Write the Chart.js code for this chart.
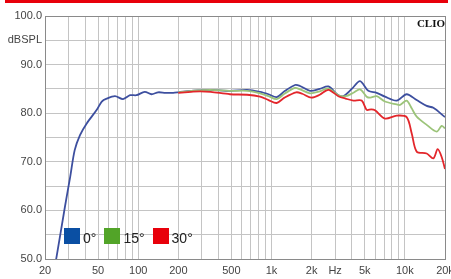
<!DOCTYPE html>
<html>
<head>
<meta charset="utf-8">
<script src="https://cdn.jsdelivr.net/npm/chart.js@4"></script>
<style>
  body { margin: 0; background: #fff; }
  .wrap { position: relative; width: 451px; height: 279px; overflow: hidden; }
  .topbar { position: absolute; left: 5px; top: 0; width: 443px; height: 3px; background: #e8000b; }
  .clio { position: absolute; right: 6px; top: 17px; font: bold 11px "Liberation Serif", serif; color: #111; }
  .legend { position: absolute; left: 64px; top: 228px; display: flex; align-items: flex-end; }
  .legend-item { display: flex; align-items: flex-end; margin-right: 8px; }
  .legend-sq { width: 16px; height: 16px; margin-right: 3px; }
  .legend-txt { font: 14px "Liberation Sans", Arial, sans-serif; color: #222; line-height: 12px; }
</style>
</head>
<body>
<div class="wrap">
  <canvas id="fr" width="451" height="279"></canvas>
  <div class="topbar"></div>
  <div class="clio">CLIO</div>
  <div class="legend" id="legend"></div>
</div>

<script>
  // frequency response, 0 / 15 / 30 degrees
  var seriesNames = ["0°", "15°", "30°"];
  var lineColors = ["#3d4f9f", "#9cc47a", "#e3262b"];
  var legendColors = ["#0a4fa3", "#52a428", "#e8000b"];

  var freq0 = [23.5, 24.4, 28.2, 30.9, 33.4, 36.6, 41.1, 48.9, 53.3, 58, 67, 77, 87, 97, 112, 126, 141, 160, 183, 200, 250, 291, 350, 488, 655, 820, 950, 1093, 1250, 1500, 1635, 1943, 2300, 2667, 3170, 3456, 4000, 4610, 5321, 6146, 7096, 8683, 10316, 12264, 14578, 16355, 20000];
  var db0 = [48.0, 50.4, 60.7, 66.9, 72.4, 75.5, 77.9, 80.7, 82.4, 83.0, 83.5, 82.9, 83.7, 83.7, 84.4, 83.9, 84.3, 84.2, 84.2, 84.3, 84.6, 84.7, 84.8, 84.6, 84.8, 84.4, 83.9, 83.3, 84.5, 85.8, 85.6, 84.6, 85.0, 85.5, 83.7, 83.5, 85.0, 86.6, 84.6, 84.2, 83.4, 82.6, 83.9, 82.7, 81.5, 81.1, 79.2];

  var freq15 = [200, 250, 291, 350, 488, 655, 820, 950, 1093, 1250, 1500, 1635, 1943, 2300, 2667, 3170, 3600, 4108, 4610, 5170, 5500, 6146, 7096, 8683, 9193, 10316, 11247, 12264, 14578, 17321, 18880, 20000];
  var db15 = [84.3, 84.6, 84.7, 84.8, 84.6, 84.6, 84.1, 83.5, 82.9, 84.0, 85.2, 84.9, 84.1, 84.5, 85.1, 83.7, 83.5, 84.2, 84.9, 83.4, 83.2, 83.5, 82.4, 81.8, 81.7, 82.6, 81.0, 79.3, 77.6, 76.2, 77.4, 76.9];

  var freq30 = [200, 250, 291, 350, 488, 655, 820, 950, 1093, 1250, 1530, 1700, 1990, 2300, 2667, 3170, 3600, 4108, 4743, 5170, 5600, 5970, 7096, 8683, 10316, 11247, 12264, 14578, 16355, 17622, 18880, 20000];
  var db30 = [84.2, 84.4, 84.5, 84.4, 83.9, 83.8, 83.4, 82.7, 82.1, 83.2, 84.3, 84.0, 83.2, 83.8, 84.8, 83.5, 83.0, 82.6, 82.6, 80.7, 80.8, 80.6, 78.9, 79.5, 79.2, 75.9, 72.1, 71.7, 70.7, 72.6, 71.0, 68.5];

  var xGrid = [20, 30, 40, 50, 60, 70, 80, 90, 100, 200, 300, 400, 500, 600, 700, 800, 900, 1000,
               2000, 3000, 4000, 5000, 6000, 7000, 8000, 9000, 10000, 20000];
  var xLabels = { 20: "20", 50: "50", 100: "100", 200: "200", 500: "500", 1000: "1k", 2000: "2k", 3000: "Hz", 5000: "5k", 10000: "10k", 20000: "20k" };

  function pts(f, d) {
    return f.map(function (v, i) { return { x: v, y: d[i] }; });
  }
  var allFreq = [freq0, freq15, freq30];
  var allDb = [db0, db15, db30];

  var font = { family: "'Liberation Sans', Arial, sans-serif", size: 11 };

  new Chart(document.getElementById('fr'), {
    type: 'line',
    data: {
      datasets: seriesNames.map(function (n, i) {
        return {
          label: n,
          data: pts(allFreq[i], allDb[i]),
          borderColor: lineColors[i],
          borderWidth: 1.8,
          pointRadius: 0,
          tension: 0.3,
          fill: false
        };
      }).reverse()
    },
    options: {
      responsive: false,
      animation: false,
      layout: { padding: { left: 0, right: 6, top: 16, bottom: 0 } },
      plugins: { legend: { display: false }, tooltip: { enabled: false } },
      scales: {
        x: {
          type: 'logarithmic',
          min: 20,
          max: 20000,
          afterBuildTicks: function (s) { s.ticks = xGrid.map(function (v) { return { value: v }; }); },
          afterFit: function (s) { s.height = 20; s.paddingLeft = 0; s.paddingRight = 0; },
          ticks: {
            autoSkip: false, maxRotation: 0, padding: 5, color: '#444', font: font,
            callback: function (v) { return xLabels[v] || ''; }
          },
          grid: {
            drawTicks: false,
            color: function (c) { return c.tick && c.tick.value === 20000 ? '#8a8a8a' : '#c4c4c4'; }
          },
          border: { color: '#8a8a8a' }
        },
        y: {
          min: 50,
          max: 100,
          afterFit: function (s) { s.width = 45; s.paddingTop = 0; s.paddingBottom = 0; },
          ticks: {
            stepSize: 5, padding: 3, color: '#444', font: font,
            callback: function (v) { return v === 95 ? 'dBSPL' : (v % 10 === 0 ? v.toFixed(1) : ''); }
          },
          grid: {
            drawTicks: false,
            color: function (c) { return c.tick && c.tick.value === 100 ? '#8a8a8a' : '#c4c4c4'; }
          },
          border: { color: '#8a8a8a' }
        }
      }
    }
  });

  var lg = document.getElementById('legend');
  seriesNames.forEach(function (n, i) {
    var it = document.createElement('div');
    it.className = 'legend-item';
    it.innerHTML = '<div class="legend-sq" style="background:' + legendColors[i] + '"></div><div class="legend-txt">' + n + '</div>';
    lg.appendChild(it);
  });
</script>
</body>
</html>
